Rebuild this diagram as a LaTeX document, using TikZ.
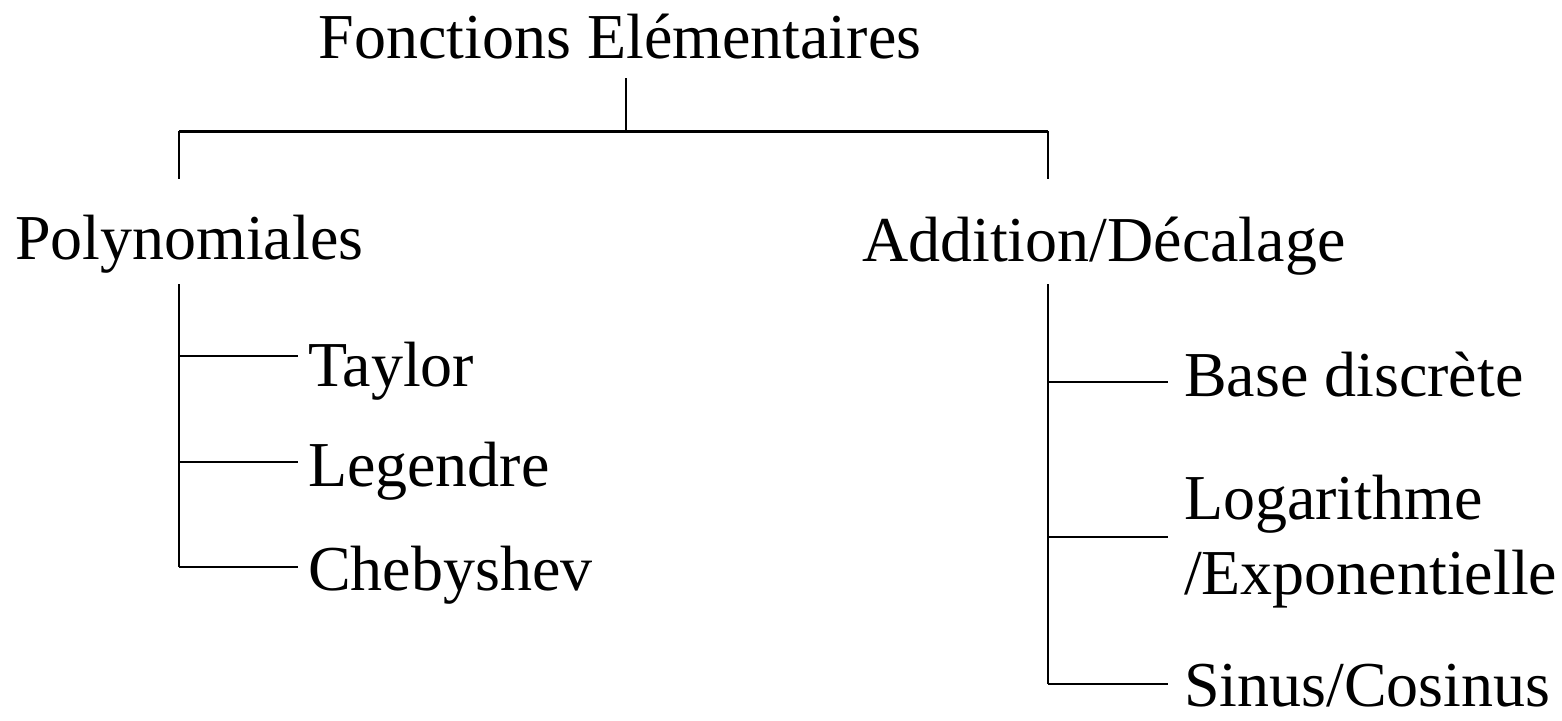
\documentclass[tikz,border=0pt]{standalone}
\usepackage{fontspec}
\setmainfont{Liberation Serif}
\begin{document}
\begin{tikzpicture}[x=1pt,y=-1pt,
  lbl/.style={inner sep=0pt,outer sep=0pt,anchor=base west,font=\fontsize{64}{75}\selectfont},
  ln/.style={line width=2pt}]
\useasboundingbox[fill=white] (0,0) rectangle (1562,720);
% text nodes
\node[lbl,anchor=base] (root) at (620,58) {Fonctions Elémentaires};
\node[lbl] (poly) at (15,259) {Polynomiales};
\node[lbl] (add) at (862,261) {Addition/Décalage};
\node[lbl] (tay) at (308,386) {Taylor};
\node[lbl] (leg) at (308,486) {Legendre};
\node[lbl] (che) at (308,590) {Chebyshev};
\node[lbl] (bas) at (1184,396) {Base discrète};
\node[lbl,anchor=west,align=left] (log) at (1184,542) {Logarithme\\/Exponentielle};
\node[lbl] (sin) at (1184,706) {Sinus/Cosinus};
% junction coordinates
\coordinate (rs) at (626,78);
\coordinate (rj) at (626,131);
\coordinate (lt) at (179,131);
\coordinate (rt) at (1048,131);
\coordinate (lb) at (179,179);
\coordinate (rb) at (1048,179);
\coordinate (ps) at (179,284);
\coordinate (pt) at (179,356);
\coordinate (pl) at (179,462);
\coordinate (pc) at (179,567);
\coordinate (as) at (1048,284);
\coordinate (ab) at (1048,382);
\coordinate (al) at (1048,537);
\coordinate (asn) at (1048,684);
% connectors
\draw[ln] (rs) -- (rj);
\draw[line width=3pt] (lt) -- (rt);
\draw[ln] (lt) -- (lb);
\draw[ln] (rt) -- (rb);
\draw[ln] (ps) -- (pc);
\draw[ln,shorten >=10pt] (pt) -- (pt -| tay.west);
\draw[ln,shorten >=10pt] (pl) -- (pl -| leg.west);
\draw[ln,shorten >=10pt] (pc) -- (pc -| che.west);
\draw[ln] (as) -- (asn);
\draw[ln,shorten >=16pt] (ab) -- (ab -| bas.west);
\draw[ln,shorten >=16pt] (al) -- (al -| log.west);
\draw[ln,shorten >=16pt] (asn) -- (asn -| sin.west);
\end{tikzpicture}
\end{document}
